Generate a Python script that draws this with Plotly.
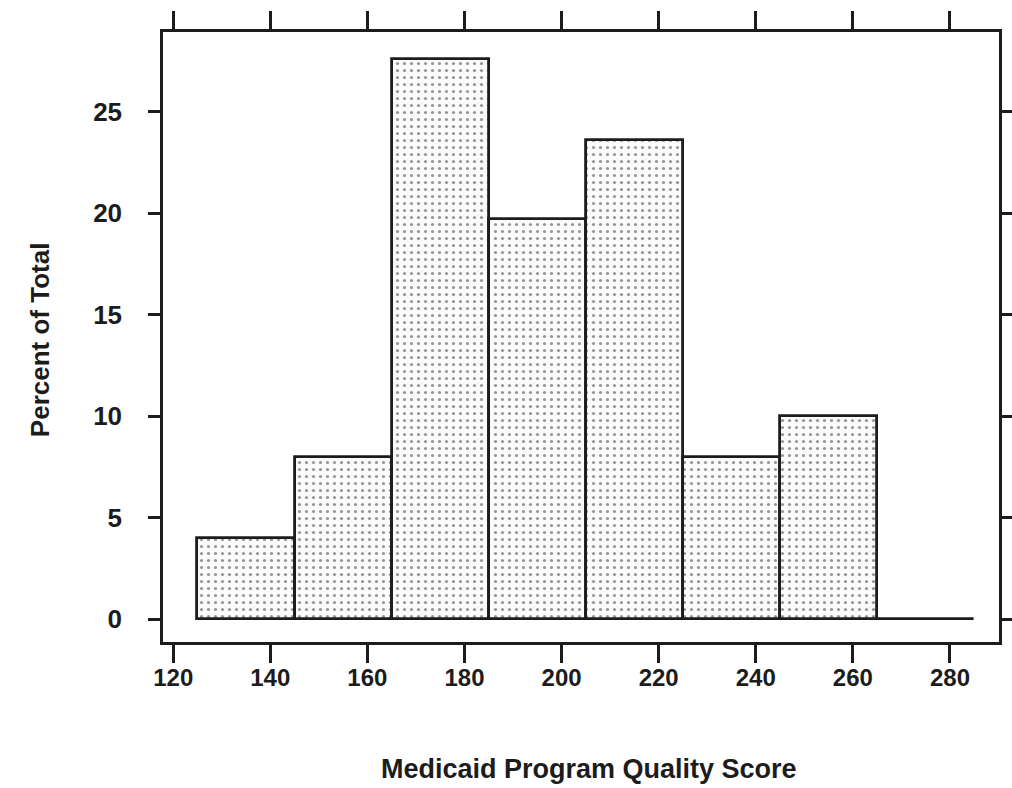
import plotly.graph_objects as go

# Histogram bins (left edges) and percent of total in each bin
bin_left = [125, 145, 165, 185, 205, 225, 245, 265]
bin_width = 20
percent = [4.0, 8.0, 27.6, 19.7, 23.6, 8.0, 10.0, 0.0]

x_ticks = [120, 140, 160, 180, 200, 220, 240, 260, 280]
y_ticks = [0, 5, 10, 15, 20, 25]

x_title = "Medicaid Program Quality Score"
y_title = "Percent of Total"

centers = [b + bin_width / 2 for b in bin_left]

ink = "#1c1c1c"
font_family = "Arial, Liberation Sans, sans-serif"

fig = go.Figure()
fig.add_trace(go.Bar(
    x=centers,
    y=percent,
    width=[bin_width] * len(centers),
    marker=dict(
        color="white",
        line=dict(color=ink, width=2.8),
        pattern=dict(shape=".", fgcolor="#303030", bgcolor="#fbfbfb",
                     size=7, solidity=0.16),
    ),
    showlegend=False,
    hoverinfo="skip",
))

axis_common = dict(
    showline=True, linecolor=ink, linewidth=2.5, mirror="ticks",
    ticks="outside", tickcolor=ink, tickwidth=2.5,
    showgrid=False, zeroline=False, automargin=False,
)

fig.update_xaxes(
    range=[117.9, 290.1], tickvals=x_ticks, ticklen=18,
    ticklabelstandoff=-6,
    tickfont=dict(family=font_family, size=24, color=ink, weight="bold"),
    **axis_common,
)
fig.update_yaxes(
    range=[-1.13, 28.92], tickvals=y_ticks, ticklen=12,
    ticklabelstandoff=21,
    tickfont=dict(family=font_family, size=26, color=ink, weight="bold"),
    **axis_common,
)

fig.add_annotation(
    text=x_title, xref="paper", yref="paper", x=0.509, y=-0.208,
    xanchor="center", yanchor="middle", showarrow=False,
    font=dict(family=font_family, size=27, color=ink, weight="bold"),
)
fig.add_annotation(
    text=y_title, xref="paper", yref="paper", x=-0.147, y=0.495,
    xanchor="center", yanchor="middle", showarrow=False, textangle=-90,
    font=dict(family=font_family, size=26, color=ink, weight="bold"),
)

fig.update_layout(
    width=1012, height=788, autosize=False,
    margin=dict(l=163, r=13, t=32, b=146),
    paper_bgcolor="white", plot_bgcolor="white",
    bargap=0,
)

fig.write_html("out.html")
